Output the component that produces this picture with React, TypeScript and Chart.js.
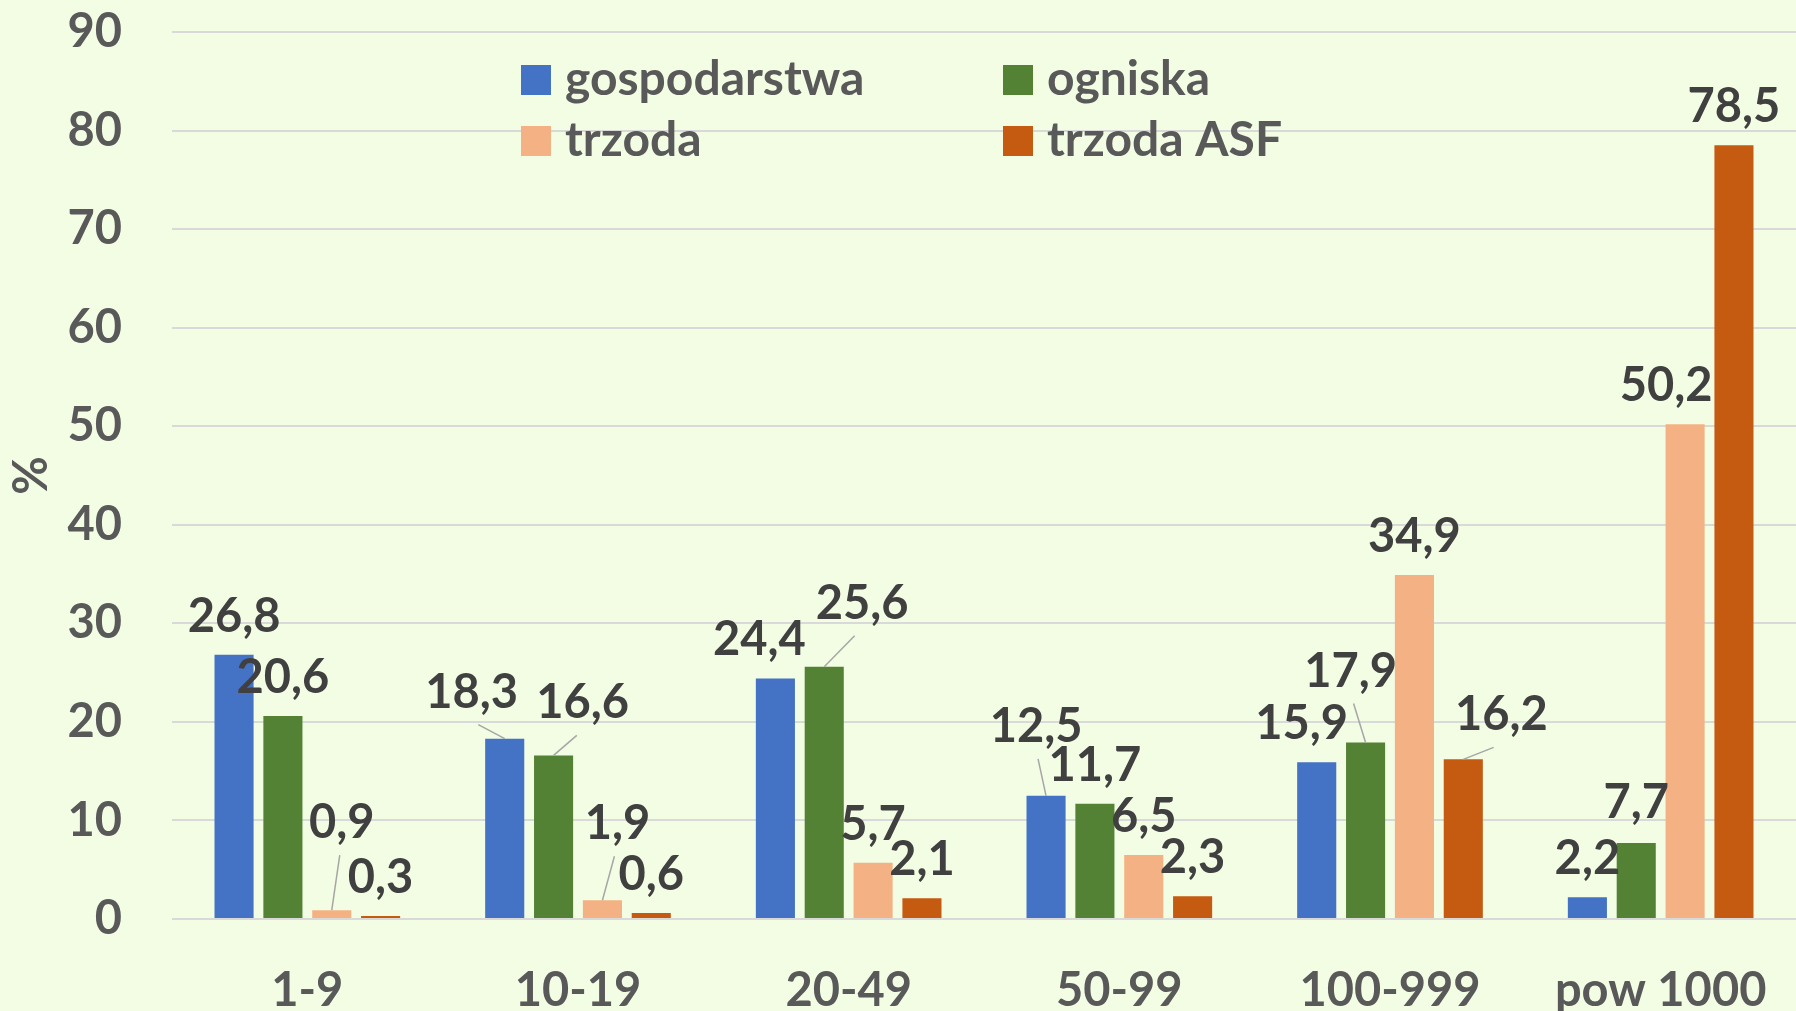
import { useEffect, useRef } from "react";
import { Chart, registerables } from "chart.js";

Chart.register(...registerables);

const categories = ["1-9", "10-19", "20-49", "50-99", "100-999", "pow 1000"];
const seriesNames = ["gospodarstwa", "ogniska", "trzoda", "trzoda ASF"];
const gospodarstwa = [26.8, 18.3, 24.4, 12.5, 15.9, 2.2];
const ogniska = [20.6, 16.6, 25.6, 11.7, 17.9, 7.7];
const trzoda = [0.9, 1.9, 5.7, 6.5, 34.9, 50.2];
const trzodaASF = [0.3, 0.6, 2.1, 2.3, 16.2, 78.5];
const yMin = 0;
const yMax = 90;
const yStep = 10;

const seriesColors = ["#4472C4", "#548235", "#F4B183", "#C55A11"];

// label placement tweaks (px) relative to the default spot above each bar
const labelOffsets: [number, number][][] = [
  [[0, 0], [-33, -8], [-16, -1], [-10, -31], [-15, 0], [0, 0]],
  [[0, 0], [29, -14], [38, -25], [0, 0], [-15, -33], [0, -2]],
  [[10, -49], [15, -38], [0, 0], [0, 0], [0, 0], [-19, 0]],
  [[0, 0], [0, 0], [0, 0], [0, 0], [38, -6], [0, 0]],
];
const leaderLines: boolean[][] = [
  [false, true, false, true, false, false],
  [false, true, true, false, true, false],
  [true, true, false, false, false, false],
  [false, false, false, false, true, false],
];

const FONT_FAMILY = "Lato, 'Open Sans', sans-serif";
const FONT_SIZE = 47;
const LEGEND_FONT_SIZE = 48;
const AXIS_COLOR = "#595959";
const LABEL_COLOR = "#404040";

const fmt = (v: number) => v.toFixed(1).replace(".", ",");

const dataLabelPlugin = {
  id: "dataLabelsCustom",
  afterDatasetsDraw(chart: any) {
    const ctx = chart.ctx;
    ctx.save();
    ctx.font = `bold ${FONT_SIZE}px ${FONT_FAMILY}`;
    ctx.textAlign = "center";
    ctx.textBaseline = "alphabetic";
    chart.data.datasets.forEach((ds: any, i: number) => {
      const meta = chart.getDatasetMeta(i);
      meta.data.forEach((el: any, j: number) => {
        const v = ds.data[j] as number;
        const text = fmt(v);
        const [dx, dy] = labelOffsets[i][j];
        const cx = el.x + dx;
        const cy = el.y - 40 + dy;
        if (leaderLines[i][j]) {
          const ex = cx + 0.2 * (el.x - cx);
          const ey = cy + 34;
          ctx.strokeStyle = "#A6A6A6";
          ctx.lineWidth = 1.5;
          ctx.beginPath();
          ctx.moveTo(el.x, el.y);
          ctx.lineTo(ex, ey);
          ctx.stroke();
        }
        ctx.fillStyle = LABEL_COLOR;
        ctx.fillText(text, cx, cy + 17);
      });
    });
    ctx.restore();
  },
};

const legendPlugin = {
  id: "legendCustom",
  afterDraw(chart: any) {
    const ctx = chart.ctx;
    ctx.save();
    ctx.font = `bold ${LEGEND_FONT_SIZE}px ${FONT_FAMILY}`;
    ctx.textAlign = "left";
    ctx.textBaseline = "alphabetic";
    const colX = [521, 1003];
    const rowY = [65, 126];
    chart.data.datasets.forEach((ds: any, i: number) => {
      const x = colX[i % 2];
      const y = rowY[Math.floor(i / 2)];
      ctx.fillStyle = ds.backgroundColor;
      ctx.fillRect(x, y, 30, 30);
      ctx.fillStyle = AXIS_COLOR;
      ctx.fillText(ds.label, x + 44, y + 30);
    });
    ctx.restore();
  },
};

export default function App() {
  const ref = useRef<HTMLCanvasElement | null>(null);

  useEffect(() => {
    document.body.style.margin = "0";
    if (!ref.current) return;
    const font = { family: FONT_FAMILY, size: FONT_SIZE, weight: "bold" as const };
    const seriesData = [gospodarstwa, ogniska, trzoda, trzodaASF];
    const chart = new Chart(ref.current, {
      type: "bar",
      data: {
        labels: categories,
        datasets: seriesNames.map((name, i) => ({
          label: name,
          data: seriesData[i],
          backgroundColor: seriesColors[i],
          borderWidth: 0,
          categoryPercentage: 0.722,
          barPercentage: 0.8,
        })),
      },
      options: {
        responsive: false,
        animation: false,
        layout: { padding: { top: 32, left: 0, right: 0, bottom: 0 } },
        plugins: {
          legend: { display: false },
          tooltip: { enabled: false },
        },
        scales: {
          x: {
            grid: { display: false },
            border: { display: false },
            ticks: { font, color: AXIS_COLOR, padding: 36 },
            afterFit: (s: any) => {
              s.height = 92;
              s.paddingLeft = 0;
              s.paddingRight = 0;
            },
          },
          y: {
            min: yMin,
            max: yMax,
            ticks: { stepSize: yStep, font, color: AXIS_COLOR, padding: 50 },
            grid: { color: "#D9D9D9", lineWidth: 2, drawTicks: false },
            border: { display: false },
            title: {
              display: true,
              text: "%",
              font,
              color: AXIS_COLOR,
              padding: { top: 4, bottom: 0 },
            },
            afterFit: (s: any) => {
              s.width = 172;
              s.paddingTop = 20;
              s.paddingBottom = 20;
            },
          },
        },
      },
      plugins: [dataLabelPlugin, legendPlugin],
    });
    return () => chart.destroy();
  }, []);

  return (
    <div style={{ position: "fixed", left: 0, top: 0, width: 1796, height: 1011, background: "#F2FDE4" }}>
      <canvas ref={ref} width={1796} height={1011} style={{ display: "block", width: 1796, height: 1011 }} />
    </div>
  );
}
